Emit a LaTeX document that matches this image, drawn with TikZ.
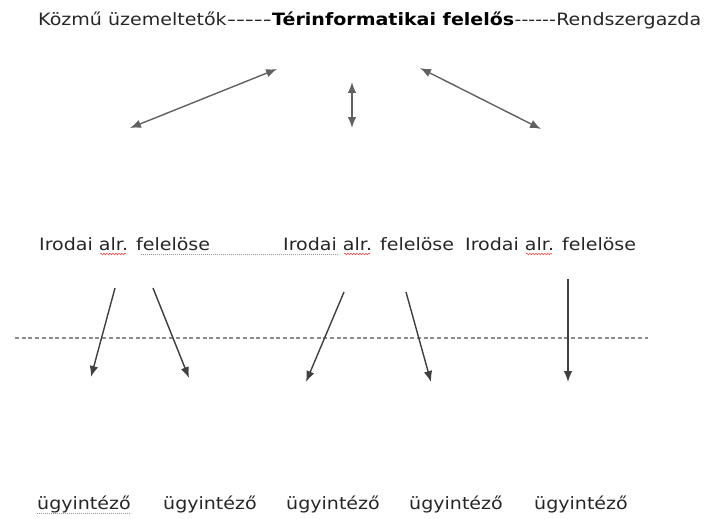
\documentclass[tikz,border=0pt]{standalone}
\usepackage{fontspec}
\setmainfont[FakeStretch=1.12,Ligatures=TeXOff]{DejaVu Sans}
\usetikzlibrary{arrows.meta,calc,decorations.pathmorphing}
\begin{document}
\begin{tikzpicture}[x=1pt,y=-1pt,
  txt/.style={inner sep=0pt, anchor=base west, font=\fontsize{17}{20}\selectfont, text=black!85},
  btxt/.style={txt, font=\fontsize{17}{20}\selectfont\bfseries, text=black},
  arr/.style={draw=black!75, line width=1.4pt, -{Latex[length=11pt,width=8.5pt]}},
  darr/.style={draw=black!62, line width=1.4pt, {Latex[length=11pt,width=8.5pt]}-{Latex[length=11pt,width=8.5pt]}},
  sep/.style={draw=black!45, line width=2.4pt, dash pattern=on 4pt off 2.7pt},
  redwave/.style={draw=red!70, line width=0.6pt, decorate, decoration={snake, amplitude=0.8pt, segment length=3pt}},
  greendot/.style={draw=green!55!black!60, line width=0.7pt, dash pattern=on 1pt off 1pt}
]
\useasboundingbox (0,0) rectangle (718,519);

% top line
\node[txt] (kozmu) at (38,26) {Közmű üzemeltetők};
\node[txt] (d1) at (kozmu.base east) {\scalebox{1.3}[1]{-----}};
\node[btxt] (ter) at (d1.base east) {Térinformatikai felelős};
\node[txt] (d2) at (ter.base east) {------};
\node[txt] (rend) at (d2.base east) {Rendszergazda};

% top arrows
\coordinate (t1a) at (277,69);  \coordinate (t1b) at (130,128);
\coordinate (t2a) at (352,82);  \coordinate (t2b) at (352,128);
\coordinate (t3a) at (420,68);  \coordinate (t3b) at (541,129);
\draw[darr] (t1a) -- (t1b);
\draw[darr] (t2a) -- (t2b);
\draw[darr] (t3a) -- (t3b);

% middle line
\node[txt] (i1) at (39,250) {Irodai alr. felelöse};
\node[txt] (i2) at (283,250) {Irodai alr. felelöse};
\node[txt] (i3) at (465,250) {Irodai alr. felelöse};

% proofing marks
\draw[redwave] ($(i1.base west)+(61,4)$) -- ++(26,0);
\draw[redwave] ($(i2.base west)+(61,4)$) -- ++(26,0);
\draw[redwave] ($(i3.base west)+(61,4)$) -- ++(26,0);
\draw[greendot] ($(i1.base west)+(102,4)$) -- ($(i2.base west)+(55,4)$);

% separator
\coordinate (s1) at (15,338); \coordinate (s2) at (648,338);
\draw[sep] (s1) -- (s2);

% lower arrows
\coordinate (a1) at (115,288); \coordinate (b1) at (91,377);
\coordinate (a2) at (153,288); \coordinate (b2) at (189,378);
\coordinate (a3) at (344,292); \coordinate (b3) at (306,382);
\coordinate (a4) at (406,292); \coordinate (b4) at (431,382);
\coordinate (a5) at (568,279); \coordinate (b5) at (568,382);
\draw[arr] (a1) -- (b1);
\draw[arr] (a2) -- (b2);
\draw[arr] (a3) -- (b3);
\draw[arr] (a4) -- (b4);
\draw[arr] (a5) -- (b5);

% bottom line
\node[txt] (u1) at (37,509) {ügyintéző};
\node[txt] (u2) at (163,509) {ügyintéző};
\node[txt] (u3) at (286,509) {ügyintéző};
\node[txt] (u4) at (409,509) {ügyintéző};
\node[txt] (u5) at (534,509) {ügyintéző};
\draw[greendot] ($(u1.base west)+(0,4)$) -- ($(u1.base east)+(0,4)$);
\end{tikzpicture}
\end{document}
